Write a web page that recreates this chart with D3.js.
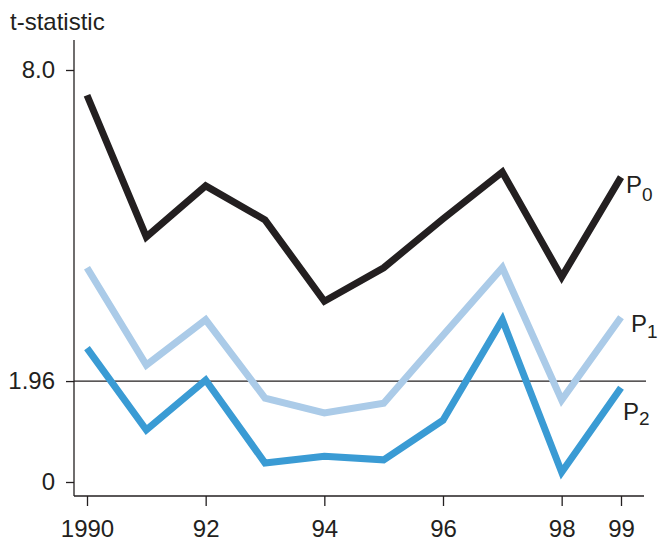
<!DOCTYPE html>
<html><head><meta charset="utf-8">
<script src="https://cdn.jsdelivr.net/npm/d3@7"></script>
<style>body{margin:0;background:#fff}svg{display:block}text{font-family:"Liberation Sans",Arial,sans-serif;fill:#231f20}</style>
</head><body><svg id="c" width="659" height="542"></svg>
<script>
const years = [1990,1991,1992,1993,1994,1995,1996,1997,1998,1999];
const p0 = [7.51,4.76,5.75,5.09,3.51,4.16,5.11,6.02,3.98,5.92];
const p1 = [4.16,2.27,3.15,1.63,1.34,1.53,2.85,4.16,1.59,3.20];
const p2 = [2.60,1.01,1.98,0.37,0.50,0.43,1.20,3.15,0.19,1.83];
const xTicks = [1990,1992,1994,1996,1998,1999];
const xTickLabels = ["1990","92","94","96","98","99"];
const yTicks = [0,1.96,8];
const yTickLabels = ["0","1.96","8.0"];
const seriesNames = ["0","1","2"];
const colors = ["#231f20","#abcbe8","#3a9bd4"];

const svg = d3.select("#c");
const x = d3.scaleLinear().domain([1990,1999]).range([87,621]);
const y = d3.scaleLinear().domain([0,8]).range([482,70]);

// axes
const gy = svg.append("g").attr("transform","translate(74,0)")
  .call(d3.axisLeft(y).tickValues(yTicks).tickFormat((d,i)=>yTickLabels[i]).tickSize(8).tickPadding(11));
gy.select(".domain").attr("d","M0,40V496");
const gx = svg.append("g").attr("transform","translate(0,496)")
  .call(d3.axisBottom(x).tickValues(xTicks).tickFormat((d,i)=>xTickLabels[i]).tickSize(10).tickPadding(14));
gx.select(".domain").attr("d","M74,0H644");
svg.selectAll(".domain,.tick line").attr("stroke","#231f20").attr("stroke-width",1.3);
svg.selectAll(".tick text").style("font-size","24px").attr("fill","#231f20").style("font-family","'Liberation Sans',Arial,sans-serif");

// reference line
svg.append("line").attr("x1",74).attr("x2",646).attr("y1",y(1.96)).attr("y2",y(1.96))
  .attr("stroke","#231f20").attr("stroke-width",1.2);

svg.append("text").attr("x",10).attr("y",30).style("font-size","24px").text("t-statistic");

const line = d3.line().x((d,i)=>x(years[i])).y(d=>y(d));
[p0,p1,p2].forEach((s,k)=>{
  svg.append("path").datum(s).attr("d",line).attr("fill","none")
    .attr("stroke",colors[k]).attr("stroke-width",7).attr("stroke-linejoin","miter");
});

// labels
const labelPos = [[626,193],[631,332],[623,420]];
const subDy = [8,6,5];
seriesNames.forEach((n,k)=>{
  const t = svg.append("text").attr("x",labelPos[k][0]).attr("y",labelPos[k][1]).style("font-size","24px");
  t.append("tspan").text("P");
  t.append("tspan").attr("dy",subDy[k]).style("font-size","19px").text(n);
});
</script></body></html>
